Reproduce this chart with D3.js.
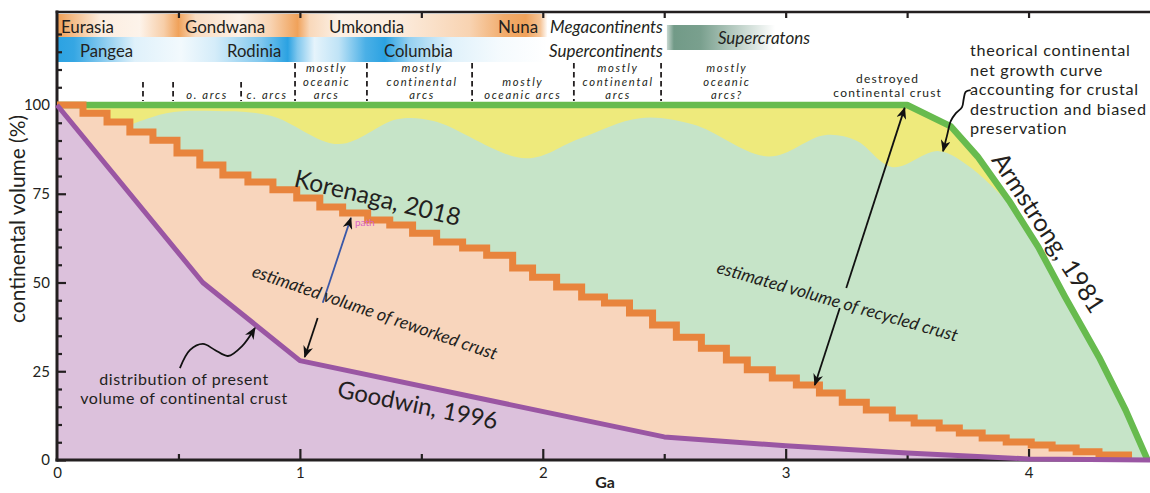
<!DOCTYPE html>
<html>
<head>
<meta charset="utf-8">
<title>Continental crust growth curves</title>
<script src="https://cdn.jsdelivr.net/npm/d3@7/dist/d3.min.js"></script>
<style>
  html, body { margin: 0; padding: 0; background: #fff; }
  svg { display: block; }
  text { font-family: Lato, "Open Sans", "DejaVu Sans", sans-serif; fill: #231f20; }
</style>
</head>
<body>
<svg id="chart" width="1150" height="493"></svg>
<script>
// ---------------- data ----------------
// Goodwin (1996): present-day continental crust volume by age
const goodwinAge = [0, 0.6, 1.0, 2.5, 3.0, 3.5, 4.0, 4.5];
const goodwinVol = [100, 50, 28, 6.5, 4, 2, 0.3, 0];

// Armstrong (1981): steady-state growth curve
const armstrongAge = [0, 3.5, 3.68, 3.79, 3.92, 4.04, 4.15, 4.29, 4.40, 4.49];
const armstrongVol = [100, 100, 94, 85.5, 73, 60, 46, 29, 14, 0];

// Korenaga (2018): stepped curve, step edges (Ga) and step values (%)
const korenagaEdge = [0, 0.107, 0.206, 0.300, 0.395, 0.494, 0.588, 0.683, 0.786, 0.889,
  0.987, 1.082, 1.176, 1.279, 1.370, 1.464, 1.563, 1.670, 1.769, 1.876,
  1.958, 2.057, 2.160, 2.254, 2.357, 2.452, 2.550, 2.653, 2.756, 2.842,
  2.945, 3.044, 3.139, 3.233, 3.332, 3.439, 3.529, 3.632, 3.715, 3.809,
  3.908, 4.011, 4.097, 4.196, 4.290, 4.426];
const korenagaVol = [100, 97.7, 95.2, 92.4, 90.1, 86.5, 83.1, 80.3, 78.3, 76.1,
  73.8, 71.3, 69.6, 67.6, 66.2, 63.9, 61.4, 59.7, 57.7, 54.1,
  51.5, 48.7, 45.9, 44.2, 41.4, 38.0, 34.6, 31.5, 28.2, 25.4,
  23.1, 21.1, 18.9, 16.3, 14.1, 11.8, 10.4, 9.0, 7.6, 6.2,
  5.1, 4.2, 3.4, 2.3, 1.4];

// theoretical net growth curve (upper limit of recycled crust)
const netGrowthAge = [0.25, 0.45, 0.65, 0.88, 1.16, 1.40, 1.55, 1.93, 2.15, 2.40, 2.62, 2.93, 3.16, 3.29, 3.44, 3.63, 3.76, 3.91];
const netGrowthVol = [93, 97.7, 98.3, 97, 89, 96, 95.5, 85, 90.5, 96.3, 94.5, 85.5, 91.5, 90, 82.5, 87, 82.5, 73];

// axis ticks
const xTickMajor = [0, 1, 2, 3, 4];
const xTickMinor = [0.5, 1.5, 2.5, 3.5];
const xTickTop = [0.5, 1, 1.5, 2, 2.5, 3, 3.5, 4];
const yTickMajor = [0, 25, 50, 75, 100];
const yTickMinor = [5, 10, 15, 20, 30, 35, 40, 45, 55, 60, 65, 70, 80, 85, 90, 95, 105, 110, 115, 120];

// supercontinent cycle names
const megaNames = ["Eurasia", "Gondwana", "Umkondia", "Nuna"];
const superNames = ["Pangea", "Rodinia", "Columbia"];
const arcSettings = [["o. arcs"], ["c. arcs"], ["mostly", "oceanic", "arcs"], ["mostly", "continental", "arcs"],
  ["mostly", "oceanic arcs"], ["mostly", "continental", "arcs"], ["mostly", "oceanic", "arcs?"]];
const arcDividerAge = [0.354, 0.478, 0.758, 0.980, 1.276, 1.709, 2.128, 2.487];

// ---------------- setup ----------------
const ink = "#231f20";
const svg = d3.select("#chart");
const defs = svg.append("defs");
const x = d3.scaleLinear().domain([0, 4.5]).range([57, 1150]);
const y = d3.scaleLinear().domain([0, 126.2]).range([460, 12]);

// scale a group of labels to a common font size matching target widths
function fitGroup(sel, widths) {
  let r = 0, n = 0;
  sel.each(function (d, i) {
    if (widths[i] == null) return;
    const L = this.getComputedTextLength();
    if (L > 0) { r += widths[i] / L; n++; }
  });
  if (!n) return;
  r /= n;
  sel.each(function () {
    const fs = parseFloat(this.getAttribute("font-size"));
    this.setAttribute("font-size", (fs * r).toFixed(2));
  });
}
// letter spacing that brings a string to a target width at a given size
function spacingFor(str, size, target, italic) {
  const probe = svg.append("text").attr("font-size", size)
    .attr("font-style", italic ? "italic" : "normal").text(str);
  const L = probe.node().getComputedTextLength();
  probe.remove();
  return ((target - L) / str.length).toFixed(2);
}

// ---------------- header bands ----------------
function hGradient(id, color, stops) {
  const x0 = x(stops[0][0]), x1 = x(stops[stops.length - 1][0]);
  const g = defs.append("linearGradient").attr("id", id)
    .attr("gradientUnits", "userSpaceOnUse")
    .attr("x1", x0).attr("x2", x1).attr("y1", 0).attr("y2", 0);
  g.selectAll("stop").data(stops).join("stop")
    .attr("offset", d => (x(d[0]) - x0) / (x1 - x0))
    .attr("stop-color", color)
    .attr("stop-opacity", d => d[1]);
  return [x0, x1];
}
const megaGlow = [[0, 1], [0.04, 0.8], [0.18, 0.18], [0.34, 0.12], [0.44, 0.5], [0.50, 0.95], [0.57, 0.35],
  [0.75, 0.14], [0.88, 0.45], [0.99, 0.95], [1.04, 0.4], [1.16, 0.15], [1.41, 0.2], [1.53, 0.3],
  [1.70, 0.45], [1.84, 0.85], [1.93, 0.95], [1.99, 0.6], [2.02, 0]];
const superGlow = [[0, 1], [0.07, 0.95], [0.18, 0.6], [0.32, 0.15], [0.51, 0.06], [0.65, 0.2], [0.84, 0.6],
  [0.95, 1], [0.99, 0.6], [1.06, 0.12], [1.16, 0.3], [1.27, 0.85], [1.35, 1], [1.45, 0.5],
  [1.62, 0.15], [1.82, 0.05], [2.02, 0]];
const cratonGlow = [[2.511, 0.35], [2.54, 0.9], [2.65, 0.85], [2.81, 0.4], [2.956, 0]];

const head = svg.append("g");
let ext = hGradient("megaGrad", "#ef9d52", megaGlow);
head.append("rect").attr("x", ext[0]).attr("y", 14).attr("width", ext[1] - ext[0]).attr("height", 23).attr("fill", "url(#megaGrad)");
ext = hGradient("superGrad", "#2ba2e2", superGlow);
head.append("rect").attr("x", ext[0]).attr("y", 37).attr("width", ext[1] - ext[0]).attr("height", 25).attr("fill", "url(#superGrad)");
ext = hGradient("cratonGrad", "#628f7a", cratonGlow);
head.append("rect").attr("x", ext[0]).attr("y", 25).attr("width", ext[1] - ext[0]).attr("height", 25).attr("fill", "url(#cratonGrad)");

const megaX = [0.016, 0.527, 1.120, 1.816];
const megaW = [52, 81, 76, 40];
const megaT = head.selectAll(".mega").data(megaNames).join("text")
  .attr("x", (d, i) => x(megaX[i])).attr("y", 33).attr("font-size", 16).text(d => d);
fitGroup(megaT, megaW);
const superX = [0.095, 0.700, 1.346];
const superW = [53, 55, 68];
const superT = head.selectAll(".sup").data(superNames).join("text")
  .attr("x", (d, i) => x(superX[i])).attr("y", 57).attr("font-size", 16).text(d => d);
fitGroup(superT, superW);
const kindT = head.selectAll(".kind").data(["Megacontinents", "Supercontinents", "Supercratons"]).join("text")
  .attr("x", (d, i) => x([2.030, 2.026, 2.721][i])).attr("y", (d, i) => [33, 57, 44][i])
  .attr("font-size", 16).attr("font-style", "italic").text(d => d);
fitGroup(kindT, [113, 114, 92]);

// tectonic setting labels and dividers
const arcX = [0.618, 0.865, 1.110, 1.503, 1.918, 2.310, 2.758];
const arcSize = 11.25, arcStep = 13.5;
const arcG = head.selectAll(".arc").data(arcSettings).join("text")
  .attr("text-anchor", "middle").attr("font-style", "italic").attr("font-size", arcSize)
  .attr("letter-spacing", spacingFor("continental", arcSize, 71, true));
arcG.each(function (lines, i) {
  const t = d3.select(this);
  const base = 99 - (lines.length - 1) * arcStep;
  lines.forEach((s, j) => {
    t.append("tspan").attr("x", x(arcX[i])).attr("y", base + j * arcStep).text(s);
  });
});
head.selectAll(".div").data(arcDividerAge).join("line")
  .attr("x1", d => x(d)).attr("x2", d => x(d))
  .attr("y1", (d, i) => i < 3 ? 82 : 63).attr("y2", 101)
  .attr("stroke", ink).attr("stroke-width", 1.8).attr("stroke-dasharray", "5.5,3.5");

// ---------------- areas ----------------
const plot = svg.append("g");
const ptsArm = armstrongAge.map((a, i) => [a, armstrongVol[i]]);
const ptsGood = goodwinAge.map((a, i) => [a, goodwinVol[i]]);
const ptsKor = korenagaEdge.map((e, i) => [e, korenagaVol[Math.min(i, korenagaVol.length - 1)]]);
const ptsNet = netGrowthAge.map((a, i) => [a, netGrowthVol[i]]);

const areaLin = d3.area().x(d => x(d[0])).y0(y(0)).y1(d => y(d[1]));
const areaStep = d3.area().curve(d3.curveStepAfter).x(d => x(d[0])).y0(y(0)).y1(d => y(d[1]));

// destroyed crust (yellow) under the Armstrong curve
plot.append("path").attr("d", areaLin(ptsArm)).attr("fill", "#eeea7c");
// recycled crust (light green): net growth curve, then Armstrong tail
{
  const lastAge = netGrowthAge[netGrowthAge.length - 1];
  const top = d3.line().curve(d3.curveCatmullRom.alpha(0.5)).x(d => x(d[0])).y(d => y(d[1]))(ptsNet);
  const tail = ptsArm.filter(d => d[0] > lastAge);
  const end = tail[tail.length - 1];
  const d = top + tail.map(p => `L${x(p[0])},${y(p[1])}`).join("") +
    `L${x(end[0])},${y(0)}L${x(ptsNet[0][0])},${y(0)}Z`;
  plot.append("path").attr("d", d).attr("fill", "#c6e4c8");
}
// reworked crust (peach) under Korenaga steps
plot.append("path").attr("d", areaStep(ptsKor)).attr("fill", "#f8d5bc");
// present crust (lilac) under Goodwin curve
plot.append("path").attr("d", areaLin(ptsGood)).attr("fill", "#dcc1dc");

// ---------------- axes ----------------
function styleAxis(g, fs) {
  g.select(".domain").remove();
  g.attr("font-size", fs).attr("font-family", null);
  g.selectAll(".tick line").attr("stroke", ink).attr("stroke-width", 2.2);
  g.selectAll(".tick text").attr("fill", ink);
}
const axes = svg.append("g");
styleAxis(axes.append("g").attr("transform", `translate(${x(0)},0)`)
  .call(d3.axisLeft(y).tickValues(yTickMinor).tickSizeInner(-5).tickSizeOuter(0).tickFormat("")), 15);
styleAxis(axes.append("g").attr("transform", `translate(${x(0)},0)`)
  .call(d3.axisLeft(y).tickValues(yTickMajor).tickSizeInner(-9).tickSizeOuter(0).tickPadding(7).tickFormat(d3.format("d"))), 15);
styleAxis(axes.append("g").attr("transform", `translate(0,${y(0)})`)
  .call(d3.axisBottom(x).tickValues(xTickMinor).tickSizeInner(-6).tickSizeOuter(0).tickFormat("")), 15);
const xb = axes.append("g").attr("transform", `translate(0,${y(0)})`)
  .call(d3.axisBottom(x).tickValues(xTickMajor).tickSizeInner(-11).tickSizeOuter(0).tickPadding(7).tickFormat(d3.format("d")));
styleAxis(xb, 15);
xb.selectAll(".tick").filter(d => d === 0).select("line").remove();
styleAxis(axes.append("g").attr("transform", `translate(0,${y(126.2)})`)
  .call(d3.axisTop(x).tickValues(xTickTop).tickSizeInner(-6).tickSizeOuter(0).tickFormat("")), 15);
// frame lines
axes.append("line").attr("x1", x(0)).attr("x2", x(0)).attr("y1", y(126.2)).attr("y2", y(0))
  .attr("stroke", ink).attr("stroke-width", 3).attr("stroke-linecap", "square");
axes.append("line").attr("x1", x(0)).attr("x2", x(4.5)).attr("y1", y(0)).attr("y2", y(0))
  .attr("stroke", ink).attr("stroke-width", 3).attr("stroke-linecap", "square");
axes.append("line").attr("x1", x(0)).attr("x2", x(4.5)).attr("y1", y(126.2)).attr("y2", y(126.2))
  .attr("stroke", ink).attr("stroke-width", 2.6).attr("stroke-linecap", "square");

// axis titles
const yTitle = axes.append("text").attr("transform", `translate(25,${219}) rotate(-90)`)
  .attr("text-anchor", "middle").attr("font-size", 17).text("continental volume (%)");
fitGroup(yTitle, [208]);
axes.append("text").attr("x", 605).attr("y", 488).attr("text-anchor", "middle")
  .attr("font-size", 16).attr("font-weight", "bold").text("Ga");

// ---------------- curves ----------------
const lineLin = d3.line().x(d => x(d[0])).y(d => y(d[1]));
const lineStep = d3.line().curve(d3.curveStepAfter).x(d => x(d[0])).y(d => y(d[1]));
const curves = svg.append("g").attr("fill", "none");
curves.append("path").attr("d", lineLin(ptsArm)).attr("stroke", "#67bb4e").attr("stroke-width", 6.5).attr("stroke-linejoin", "round");
curves.append("path").attr("d", lineStep(ptsKor)).attr("stroke", "#e8843d").attr("stroke-width", 7);
curves.append("path").attr("d", lineLin(ptsGood)).attr("stroke", "#9a56a3").attr("stroke-width", 5).attr("stroke-linejoin", "round");

// ---------------- annotations ----------------
defs.append("marker").attr("id", "head").attr("viewBox", "0 0 12 10")
  .attr("refX", 11).attr("refY", 5).attr("markerWidth", 12).attr("markerHeight", 10)
  .attr("markerUnits", "userSpaceOnUse").attr("orient", "auto-start-reverse")
  .append("path").attr("d", "M0,0 L12,5 L0,10 L3.5,5 Z").attr("fill", "#111");

const ann = svg.append("g");
function arrowPair(a, b, gap, colors) {
  const p0 = [x(a[0]), y(a[1])], p1 = [x(b[0]), y(b[1])];
  const at = t => [p0[0] + t * (p1[0] - p0[0]), p0[1] + t * (p1[1] - p0[1])];
  const q0 = at(gap[0]), q1 = at(gap[1]);
  ann.append("line").attr("x1", q0[0]).attr("y1", q0[1]).attr("x2", p0[0]).attr("y2", p0[1])
    .attr("stroke", colors[0]).attr("stroke-width", 1.8).attr("marker-end", "url(#head)");
  ann.append("line").attr("x1", q1[0]).attr("y1", q1[1]).attr("x2", p1[0]).attr("y2", p1[1])
    .attr("stroke", colors[1]).attr("stroke-width", 1.8).attr("marker-end", "url(#head)");
}
// reworked crust span (Goodwin -> Korenaga)
arrowPair([1.02, 29], [1.21, 68.2], [0.28, 0.39], ["#111", "#3a58a8"]);
// recycled crust span (Korenaga -> Armstrong)
arrowPair([3.12, 21.1], [3.49, 99.2], [0.278, 0.35], ["#111", "#111"]);

const squiggle = d3.line().curve(d3.curveCatmullRom.alpha(0.5)).x(d => x(d[0])).y(d => y(d[1]));
ann.append("path").attr("fill", "none").attr("stroke", "#111").attr("stroke-width", 1.8)
  .attr("marker-end", "url(#head)")
  .attr("d", squiggle([[0.506, 25.9], [0.548, 31.0], [0.601, 32.7], [0.650, 31.0], [0.704, 29.3], [0.762, 32.1], [0.815, 37.2]]));
ann.append("path").attr("fill", "none").attr("stroke", "#111").attr("stroke-width", 1.8)
  .attr("marker-end", "url(#head)")
  .attr("d", squiggle([[3.762, 104.2], [3.741, 103.7], [3.733, 101.7], [3.726, 99.4], [3.701, 97.7], [3.680, 95.5], [3.664, 91.3], [3.648, 87.0]]));

function rotLabel(text, pos, angle, len, size, italic) {
  const t = ann.append("text")
    .attr("transform", `translate(${x(pos[0])},${y(pos[1])}) rotate(${angle})`)
    .attr("text-anchor", "middle").attr("dominant-baseline", "central")
    .attr("font-size", size).attr("font-style", italic ? "italic" : "normal").text(text);
  fitGroup(t, [len]);
}
rotLabel("Korenaga, 2018", [1.321, 74.1], 13.5, 170, 24, false);
rotLabel("Goodwin, 1996", [1.486, 15.8], 11.5, 163, 24, false);
rotLabel("estimated volume of reworked crust", [1.309, 41.7], 19, 258, 15, true);
rotLabel("estimated volume of recycled crust", [3.214, 44.8], 16, 250, 15, true);
rotLabel("Armstrong, 1981", [4.086, 64.2], 57, 185, 26, false);

ann.append("text").attr("x", x(1.227)).attr("y", y(65.9)).attr("font-size", 10)
  .style("fill", "#d963c6").text("path");

// multi-line note: fixed size and line step, width matched with letter spacing
function block(lines, ax, base, step, size, anchor, fitIdx, fitW) {
  const t = ann.append("text").attr("font-size", size).attr("text-anchor", anchor)
    .attr("letter-spacing", spacingFor(lines[fitIdx], size, fitW, false));
  lines.forEach((s, j) => t.append("tspan").attr("x", x(ax)).attr("y", base + j * step).text(s));
}
block(["distribution of present", "volume of continental crust"], 0.523, 384.5, 19.2, 16, "middle", 1, 208);
block(["destroyed", "continental crust"], 3.420, 82.6, 14.4, 12, "middle", 1, 109);
block(["theorical continental", "net growth curve", "accounting for crustal", "destruction and biased", "preservation"],
  3.759, 56, 19.5, 16.2, "start", 3, 177);
</script>
</body>
</html>
